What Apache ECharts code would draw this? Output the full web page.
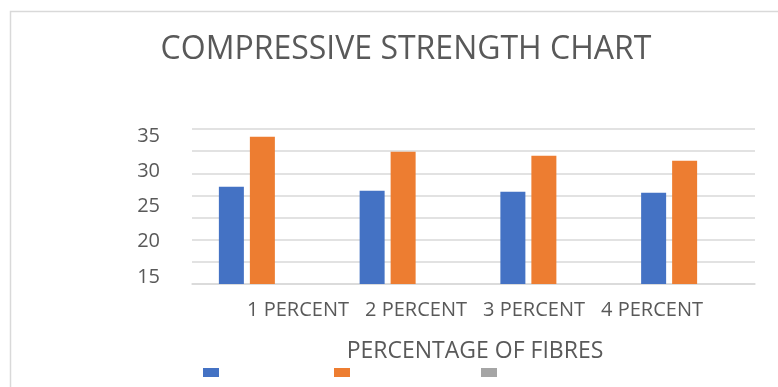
<!DOCTYPE html>
<html>
<head>
<meta charset="utf-8">
<script src="https://cdn.jsdelivr.net/npm/echarts@6/dist/echarts.min.js"></script>
<style>html,body{margin:0;padding:0;background:#fff;}#c{width:778px;height:387px;}</style>
</head>
<body>
<div id="c"></div>
<script>
var categories = ['1 PERCENT', '2 PERCENT', '3 PERCENT', '4 PERCENT'];
var seriesNames = ['Series1', 'Series2', 'Series3'];
var series1 = [21.97, 21.07, 20.84, 20.62];
var series2 = [33.26, 29.87, 28.97, 27.84];
var series3 = [null, null, null, null];
var yTickLabels = [15, 20, 25, 30, 35];
var colors = ['#4472C4', '#ED7D31', '#A5A5A5'];
var FONT = "'Open Sans', sans-serif";
var textColor = '#595959';

var chart = echarts.init(document.getElementById('c'), null, {renderer: 'canvas'});
var option = {
  animation: false,
  color: colors,
  title: {
    text: 'COMPRESSIVE STRENGTH CHART',
    left: 401, top: 29, textAlign: 'center',
    textStyle: {fontFamily: FONT, fontSize: 32, fontWeight: 'normal', color: textColor}
  },
  graphic: [{
    type: 'rect', shape: {x: 10.5, y: 11.5, width: 800, height: 420},
    style: {fill: 'none', stroke: '#d9d9d9', lineWidth: 1.5}, silent: true
  }],
  legend: seriesNames.map(function (n, i) {
    return {
      data: [n], left: [198, 329, 476][i], top: 363,
      itemWidth: 16, itemHeight: 9, icon: 'rect', formatter: function () { return ''; },
      textStyle: {fontSize: 1}
    };
  }),
  grid: [
    {left: 192, right: 23, top: 129, height: 155},
    {left: 168, width: 500, top: 136, height: 141},
    {left: 239, width: 472, top: 150, height: 140}
  ],
  xAxis: [
    {type: 'category', gridIndex: 0, data: categories,
     axisLine: {show: true, lineStyle: {color: '#d9d9d9', width: 1.5}},
     axisTick: {show: false}, axisLabel: {show: false}},
    {type: 'category', gridIndex: 1, data: categories, show: false},
    {type: 'category', gridIndex: 2, data: categories,
     axisLine: {show: false}, axisTick: {show: false},
     axisLabel: {fontFamily: FONT, fontSize: 20, color: textColor, margin: 10, interval: 0, hideOverlap: false},
     name: 'PERCENTAGE OF FIBRES', nameLocation: 'middle', nameGap: 50,
     nameTextStyle: {fontFamily: FONT, fontSize: 23, color: textColor}}
  ],
  yAxis: [
    {type: 'value', gridIndex: 0, min: 0, max: 35, interval: 5,
     axisLabel: {show: false}, axisLine: {show: false}, axisTick: {show: false},
     splitLine: {lineStyle: {color: '#d9d9d9', width: 1.5}}},
    {type: 'value', gridIndex: 1, min: 15, max: 35, interval: 5,
     axisLine: {show: false}, axisTick: {show: false}, splitLine: {show: false},
     axisLabel: {fontFamily: FONT, fontSize: 20, color: textColor, margin: 8,
       formatter: function (v) { return yTickLabels.indexOf(v) >= 0 ? String(v) : ''; }}},
    {type: 'value', gridIndex: 2, min: 0, max: 1, show: false}
  ],
  series: [
    {name: seriesNames[0], type: 'bar', xAxisIndex: 0, yAxisIndex: 0, data: series1, barWidth: 25, barGap: '24%'},
    {name: seriesNames[1], type: 'bar', xAxisIndex: 0, yAxisIndex: 0, data: series2, barWidth: 25, barGap: '24%'},
    {name: seriesNames[2], type: 'bar', xAxisIndex: 0, yAxisIndex: 0, data: series3, barWidth: 25, barGap: '24%'}
  ]
};
chart.setOption(option);
</script>
</body>
</html>
